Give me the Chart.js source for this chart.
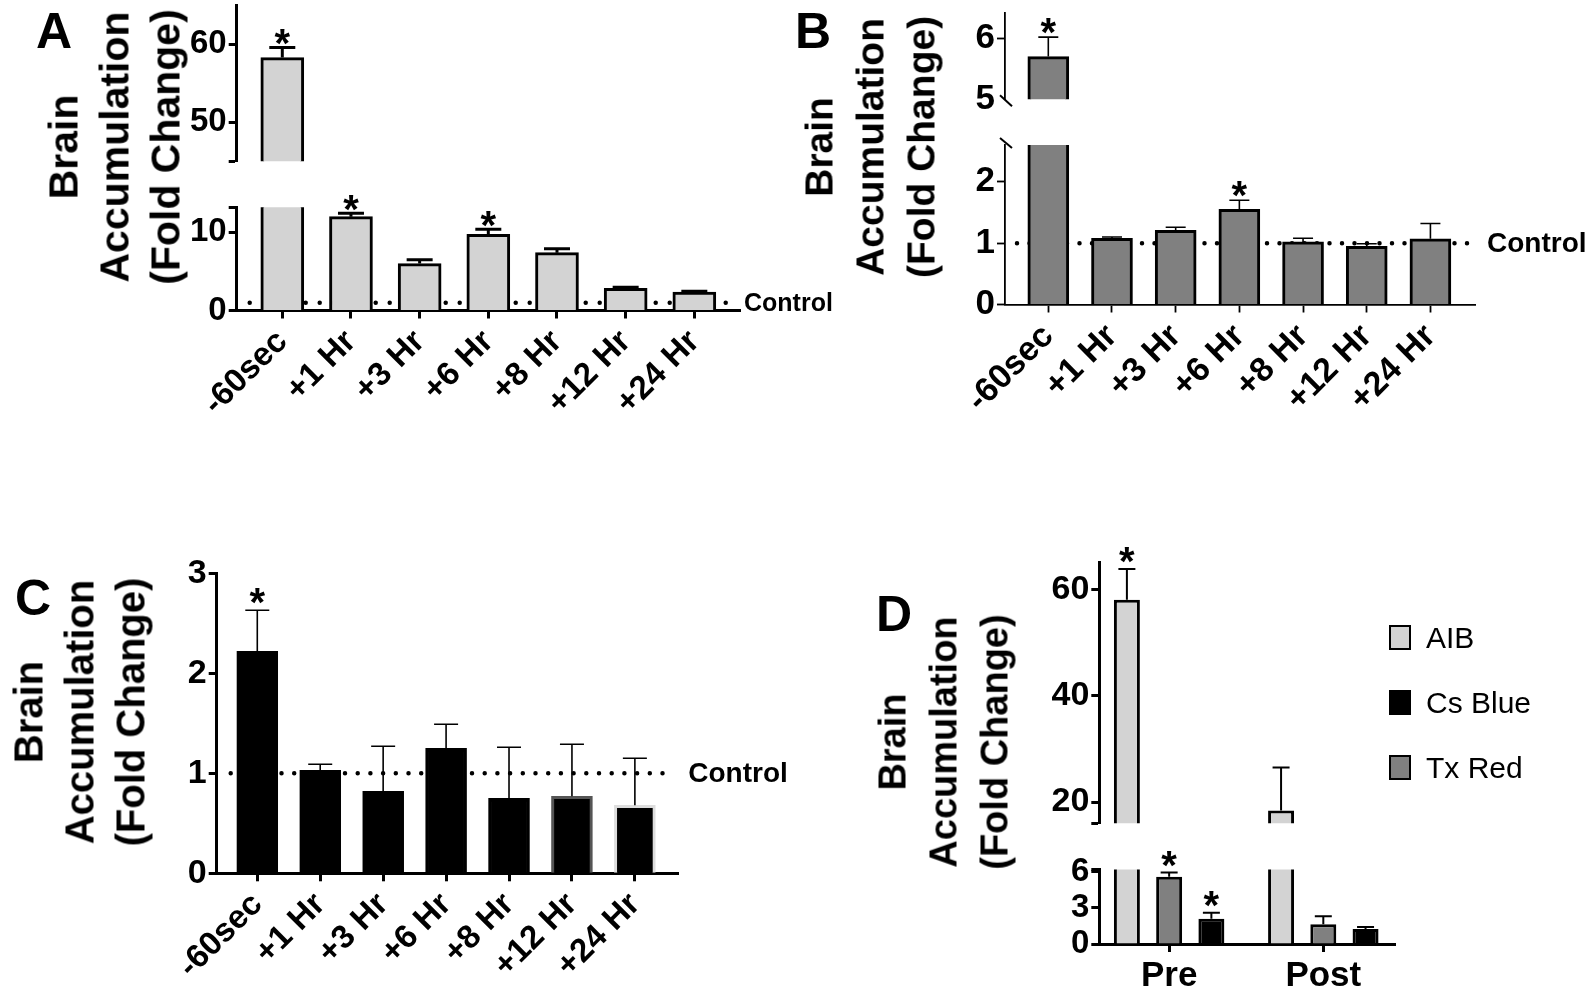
<!DOCTYPE html>
<html>
<head>
<meta charset="utf-8">
<script src="https://cdn.jsdelivr.net/npm/chart.js@4.4.1/dist/chart.umd.min.js"></script>
<style>
  body { margin: 0; background: #fff; width: 1593px; height: 990px; position: relative; overflow: hidden; }
  .seg { position: absolute; }
  .letter { position: absolute; font: bold 50px "Liberation Sans", Arial, sans-serif; line-height: 50px; }
  .ytitle { position: absolute; font-family: "Liberation Sans", Arial, sans-serif; font-weight: bold; line-height: 51px;
            text-align: center; white-space: nowrap; transform: translate(-50%, -50%) rotate(-90deg); }
  .leg { position: absolute; font: 30px "Liberation Sans", Arial, sans-serif; line-height: 32px; }
  .leg span { position: absolute; left: 0; width: 18px; height: 21px; border: 2px solid #000; }
</style>
</head>
<body>
<script>
// ---- data ----
const timeLabels = ['-60sec', '+1 Hr', '+3 Hr', '+6 Hr', '+8 Hr', '+12 Hr', '+24 Hr'];
const timeX = [0, 1, 2, 3, 4, 5, 6];

// A: AIB
const aibMean  = [58.3, 12.0, 6.0, 9.75, 7.4, 2.85, 2.35];
const aibUpper = [59.6, 12.45, 6.5, 10.4, 7.9, 2.98, 2.47];
const aibStar  = [true, true, false, true, false, false, false];
const aTopRange = [45, 65];
const aTopTicks = [50, 60];
const aLowRange = [0, 13.2];
const aLowTicks = [0, 10];

// B: Tx Red
const txMean  = [5.7, 1.08, 1.21, 1.55, 1.02, 0.95, 1.07];
const txUpper = [6.02, 1.10, 1.26, 1.70, 1.08, 0.99, 1.32];
const txStar  = [true, false, false, true, false, false, false];
const bTopRange = [5, 6.41];
const bTopTicks = [5, 6];
const bLowRange = [0, 2.6];
const bLowTicks = [0, 1, 2];

// C: Cs Blue
const csMean  = [2.22, 1.03, 0.82, 1.25, 0.75, 0.77, 0.68];
const csUpper = [2.63, 1.09, 1.27, 1.49, 1.26, 1.29, 1.15];
const csStar  = [true, false, false, false, false, false, false];
const csBorder = ['#000', '#000', '#000', '#000', '#000', '#555', '#ddd'];
const cRange = [0, 3];
const cTicks = [0, 1, 2, 3];

// D: Pre / Post
const phaseLabels = ['Pre', 'Post'];
const phaseX = [0, 1];
const tracerNames  = ['AIB', 'Tx Red', 'Cs Blue'];
const tracerColors = ['#d3d3d3', '#808080', '#000000'];
const legendOrder  = [0, 2, 1];
const dAibMean  = [58.1, 18.4];
const dAibUpper = [63.9, 26.5];
const dTxMean   = [5.6, 1.65];
const dTxUpper  = [5.95, 2.3];
const dCsMean   = [2.1, 1.25];
const dCsUpper  = [2.6, 1.42];
const dAibStar  = [true, false];
const dTxStar   = [true, false];
const dCsStar   = [true, false];
const dTopRange = [16, 65.2];
const dTopTicks = [20, 40, 60];
const dLowRange = [0, 6.2];
const dLowTicks = [0, 3, 6];

const controlLevel = 1;

const SANS = '"Liberation Sans", Arial, sans-serif';

// error bars, stars, control line, axis breaks
const decor = {
  id: 'decor',
  beforeDatasetsDraw(chart, args, o) {
    if (o.control == null) return;
    const { ctx, chartArea: a } = chart;
    const py = chart.scales.y.getPixelForValue(o.control);
    if (py < a.top || py > a.bottom) return;
    ctx.save();
    ctx.strokeStyle = '#000';
    ctx.lineWidth = o.dotSize;
    ctx.lineCap = 'round';
    ctx.setLineDash([0, o.dotGap]);
    ctx.beginPath();
    ctx.moveTo(a.left + o.dotStart, py);
    ctx.lineTo(a.right - 4, py);
    ctx.stroke();
    ctx.restore();
  },
  afterDraw(chart, args, o) {
    const { ctx, chartArea: a } = chart;
    const y = chart.scales.y;
    (o.errors || []).forEach((up, d) => {
      const meta = chart.getDatasetMeta(d);
      meta.data.forEach((bar, i) => {
        const top = y.getPixelForValue(up[i]);
        ctx.save();
        ctx.beginPath();
        ctx.rect(a.left, a.top - 3, a.right - a.left, a.bottom - a.top + 3);
        ctx.clip();
        ctx.strokeStyle = '#000';
        ctx.lineWidth = o.errWidth;
        ctx.beginPath();
        ctx.moveTo(bar.x, bar.y);
        ctx.lineTo(bar.x, top);
        ctx.moveTo(bar.x - o.cap / 2, top);
        ctx.lineTo(bar.x + o.cap / 2, top);
        ctx.stroke();
        ctx.restore();
        const st = o.stars && o.stars[d];
        if (st && st[i] && top >= a.top - 3 && top <= a.bottom) {
          ctx.save();
          ctx.fillStyle = '#000';
          ctx.font = 'bold ' + o.starSize + 'px ' + SANS;
          ctx.textAlign = 'center';
          ctx.textBaseline = 'alphabetic';
          ctx.fillText('*', bar.x, top + o.starDy);
          ctx.restore();
        }
      });
    });
    if (o.control != null && o.controlFont) {
      const py = y.getPixelForValue(o.control);
      if (py >= a.top && py <= a.bottom) {
        ctx.save();
        ctx.fillStyle = '#000';
        ctx.font = o.controlFont;
        ctx.textAlign = 'left';
        ctx.textBaseline = 'middle';
        ctx.fillText('Control', a.right + o.controlGap, py + 1);
        ctx.restore();
      }
    }
    if (o.breakAt) {
      ctx.save();
      ctx.strokeStyle = '#000';
      ctx.lineWidth = 2;
      ctx.beginPath();
      if (o.breakAt === 'bottom') {
        ctx.moveTo(a.left - 5, a.bottom - 4);
        ctx.lineTo(a.left + 7, a.bottom + 7);
      } else {
        ctx.moveTo(a.left - 5, a.top - 7);
        ctx.lineTo(a.left + 7, a.top + 3);
      }
      ctx.stroke();
      ctx.restore();
    }
  }
};

function segment(o) {
  const [l, t, r, b] = o.area;
  const left = Math.floor(l) - 110, top = Math.floor(t) - 40;
  const padL = l - left, padT = t - top;
  const xH = o.xLabels ? o.xH : 0;
  const padB = o.xLabels ? 0 : 30;
  const W = Math.ceil(r - left + (o.padR || 20));
  const H = Math.ceil(b - top + xH + padB);
  const div = document.createElement('div');
  div.className = 'seg';
  div.style.left = left + 'px';
  div.style.top = top + 'px';
  const cv = document.createElement('canvas');
  cv.width = W; cv.height = H;
  cv.style.width = W + 'px'; cv.style.height = H + 'px';
  div.appendChild(cv);
  document.body.appendChild(div);
  const yTicks = [...o.yTicks];
  (o.yCaps || []).forEach(v => yTicks.push(v));
  return new Chart(cv, {
    type: 'bar',
    data: { datasets: o.datasets },
    plugins: [decor],
    options: {
      responsive: false,
      animation: false,
      devicePixelRatio: 1,
      layout: { padding: { left: 0, top: padT, right: W - (r - left), bottom: H - (b - top) - xH } },
      datasets: { bar: { clip: 0 } },
      plugins: { legend: { display: false }, tooltip: { enabled: false }, decor: o.decor },
      scales: {
        x: {
          type: 'linear', min: o.xRange[0], max: o.xRange[1], offset: false,
          display: !!o.xLabels,
          afterFit: s => { s.height = xH; },
          afterBuildTicks: s => { s.ticks = o.xValues.map(v => ({ value: v })); },
          border: { display: true, color: '#000', width: o.axisW },
          grid: { display: true, offset: false, drawOnChartArea: false, drawTicks: true,
                  tickLength: 8, tickWidth: o.axisW, tickColor: '#000' },
          ticks: {
            autoSkip: false, color: '#000', padding: o.xPad || 2,
            maxRotation: o.xRot, minRotation: o.xRot,
            font: { family: SANS, weight: 'bold', size: o.xFont },
            callback: v => (o.xLabels ? (o.xLabels[o.xValues.indexOf(v)] ?? '') : '')
          }
        },
        y: {
          type: 'linear', min: o.yRange[0], max: o.yRange[1],
          afterFit: s => { s.width = padL; },
          afterBuildTicks: s => { s.ticks = yTicks.map(v => ({ value: v })); },
          border: { display: true, color: '#000', width: o.axisW },
          grid: { display: true, drawOnChartArea: false, drawTicks: true, tickLength: 8, tickWidth: o.axisW,
                  tickColor: c => (o.hideTick && c.tick && c.tick.value === o.hideTick ? 'rgba(0,0,0,0)' : '#000') },
          ticks: {
            autoSkip: false, color: '#000', padding: 2,
            font: { family: SANS, weight: 'bold', size: o.yFont },
            callback: v => (o.yTicks.includes(v) ? String(v) : '')
          }
        }
      }
    }
  });
}

function pts(xs, ys) { return xs.map((x, i) => ({ x, y: ys[i] })); }

function title(cx, cy, size) {
  const d = document.createElement('div');
  d.className = 'ytitle';
  d.style.left = cx + 'px'; d.style.top = cy + 'px'; d.style.fontSize = size + 'px';
  d.innerHTML = 'Brain<br>Accumulation<br>(Fold Change)';
  document.body.appendChild(d);
}
function letter(ch, x, y) {
  const d = document.createElement('div');
  d.className = 'letter';
  d.style.left = x + 'px'; d.style.top = y + 'px';
  d.textContent = ch;
  document.body.appendChild(d);
}

// ---- panel A ----
const aSet = () => [{ data: pts(timeX, aibMean), backgroundColor: '#d3d3d3', borderColor: '#000',
                      borderWidth: 3, barThickness: 43 }];
const aDecor = { errors: [aibUpper], stars: [aibStar], errWidth: 3, cap: 26, starSize: 40, starDy: 10 };
segment({ area: [236.7, 5.3, 740, 161.3], yRange: aTopRange, yTicks: aTopTicks, yCaps: [45],
          xRange: [-0.664, 6.665], xValues: timeX, datasets: aSet(), axisW: 3, yFont: 33, decor: aDecor });
segment({ area: [236.7, 207.3, 740, 310.5], yRange: aLowRange, yTicks: aLowTicks, yCaps: [13.2],
          xRange: [-0.664, 6.665], xValues: timeX, xLabels: timeLabels, xH: 130, xRot: 45, xFont: 33, xPad: 4,
          datasets: aSet(), axisW: 3, yFont: 33, padR: 100,
          decor: Object.assign({ control: controlLevel, dotSize: 4.5, dotGap: 14, dotStart: 13,
                                 controlFont: 'bold 25px ' + SANS, controlGap: 4 }, aDecor) });
letter('A', 36, 6);
title(115, 147, 41);

// ---- panel B ----
const bSet = () => [{ data: pts(timeX, txMean), backgroundColor: '#808080', borderColor: '#000',
                      borderWidth: 3, barThickness: 41 }];
const bDecor = { errors: [txUpper], stars: [txStar], errWidth: 1.6, cap: 20, starSize: 40, starDy: 9 };
segment({ area: [1005, 13.3, 1475, 99.3], yRange: bTopRange, yTicks: bTopTicks, hideTick: 5,
          xRange: [-0.68, 6.70], xValues: timeX, datasets: bSet(), axisW: 1.8, yFont: 35,
          decor: Object.assign({ breakAt: 'bottom' }, bDecor) });
segment({ area: [1005, 145, 1475, 304.5], yRange: bLowRange, yTicks: bLowTicks,
          xRange: [-0.68, 6.70], xValues: timeX, xLabels: timeLabels, xH: 130, xRot: 45, xFont: 34, xPad: 4,
          datasets: bSet(), axisW: 1.8, yFont: 35, padR: 120,
          decor: Object.assign({ breakAt: 'top', control: controlLevel, dotSize: 4.5, dotGap: 12.5, dotStart: 12,
                                 controlFont: 'bold 28px ' + SANS, controlGap: 12 }, bDecor) });
letter('B', 795, 6);
title(870, 147, 39);

// ---- panel C ----
segment({ area: [216.7, 573.3, 678.3, 873.3], yRange: cRange, yTicks: cTicks,
          xRange: [-0.645, 6.69], xValues: timeX, xLabels: timeLabels, xH: 116, xRot: 45, xFont: 33, xPad: 4,
          datasets: [{ data: pts(timeX, csMean), backgroundColor: '#000', borderColor: csBorder,
                       borderWidth: 3, barThickness: 41 }],
          axisW: 3, yFont: 34, padR: 120,
          decor: { errors: [csUpper], stars: [csStar], errWidth: 1.6, cap: 24, starSize: 40, starDy: 6,
                   control: controlLevel, dotSize: 4.5, dotGap: 12.7, dotStart: 14,
                   controlFont: 'bold 28px ' + SANS, controlGap: 10 } });
letter('C', 15, 573);
title(80, 712, 40);

// ---- panel D ----
const dSet = () => [
  { label: tracerNames[0], data: pts(phaseX, dAibMean), backgroundColor: tracerColors[0], borderColor: '#000', borderWidth: 3 },
  { label: tracerNames[1], data: pts(phaseX, dTxMean), backgroundColor: tracerColors[1], borderColor: '#000', borderWidth: 3 },
  { label: tracerNames[2], data: pts(phaseX, dCsMean), backgroundColor: tracerColors[2], borderColor: '#000', borderWidth: 3 }
].map(ds => Object.assign(ds, { categoryPercentage: 0.822, barPercentage: 0.615 }));
const dDecor = { errors: [dAibUpper, dTxUpper, dCsUpper], stars: [dAibStar, dTxStar, dCsStar],
                 errWidth: 2, cap: 17, starSize: 40, starDy: 6 };
const dTop = segment({ area: [1099.3, 562, 1395, 823.3], yRange: dTopRange, yTicks: dTopTicks, yCaps: [16],
          xRange: [-0.453, 1.465], xValues: phaseX, datasets: dSet(), axisW: 3, yFont: 34, decor: dDecor });
segment({ area: [1099.3, 869.5, 1395, 944], yRange: dLowRange, yTicks: dLowTicks, yCaps: [6.2],
          xRange: [-0.453, 1.465], xValues: phaseX, xLabels: phaseLabels, xH: 46, xRot: 0, xFont: 35, xPad: 3,
          datasets: dSet(), axisW: 3, yFont: 33, decor: dDecor });
letter('D', 876, 589);
title(944, 742, 38);

// legend for D, built from the chart's own legend items
const items = dTop.options.plugins.legend.labels.generateLabels(dTop);
legendOrder.forEach((idx, k) => {
  const it = items[idx];
  const row = document.createElement('div');
  row.className = 'leg';
  row.style.left = '1389px';
  row.style.top = (622 + k * 65) + 'px';
  row.style.paddingLeft = '37px';
  const sw = document.createElement('span');
  sw.style.background = it.fillStyle;
  sw.style.top = '3px';
  row.appendChild(sw);
  row.appendChild(document.createTextNode(it.text));
  document.body.appendChild(row);
});
</script>
</body>
</html>
